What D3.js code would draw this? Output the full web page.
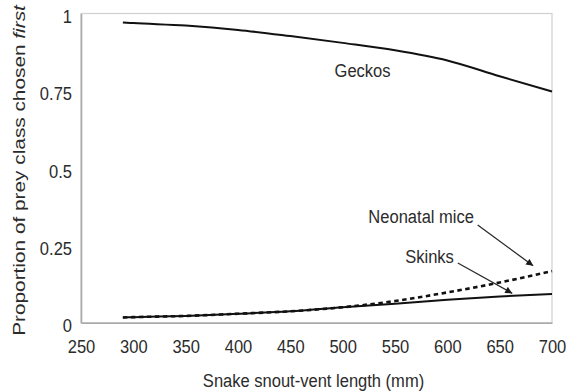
<!DOCTYPE html>
<html>
<head>
<meta charset="utf-8">
<script src="https://cdn.jsdelivr.net/npm/d3@7"></script>
<style>
  html, body { margin: 0; padding: 0; background: #fff; }
  svg { display: block; font-family: Arial, "Liberation Sans", sans-serif; }
  .tick text, .label { fill: #2b2b2b; }
</style>
</head>
<body>
<div id="chart"></div>
<script>
// snout-vent length (mm) where the fitted curves are sampled
const sizes = [290, 300, 350, 400, 450, 500, 550, 600, 650, 700];
const geckos = [0.971, 0.969, 0.961, 0.947, 0.927, 0.905, 0.881, 0.848, 0.797, 0.748];
const neonatalMice = [0.017, 0.018, 0.022, 0.029, 0.037, 0.050, 0.070, 0.098, 0.130, 0.167];
const skinks = [0.017, 0.018, 0.022, 0.029, 0.037, 0.050, 0.061, 0.074, 0.085, 0.093];

const xTicks = [250, 300, 350, 400, 450, 500, 550, 600, 650, 700];
const yTicks = [0, 0.25, 0.5, 0.75, 1];
const yTickLabels = ['0', '0.25', '0.5', '0.75', '1'];

// curve labels, anchored in data units
const labelNames = ['Geckos', 'Neonatal mice', 'Skinks'];
const labelX = [519, 575, 583];
const labelY = [0.794, 0.322, 0.192];
// arrows from label to curve, data units
const arrowFrom = [[629, 0.316], [610, 0.193]];
const arrowTo = [[682, 0.184], [662, 0.095]];

const width = 566, height = 391;
const margin = { top: 13.5, right: 14, bottom: 68.3, left: 81 };
const innerW = width - margin.left - margin.right;
const innerH = height - margin.top - margin.bottom;
const squeeze = 0.87; // the original text is a bit narrow

const svg = d3.select('#chart').append('svg')
  .attr('width', width)
  .attr('height', height);

const defs = svg.append('defs');
defs.append('marker')
  .attr('id', 'head')
  .attr('viewBox', '0 0 10 10')
  .attr('refX', 10).attr('refY', 5)
  .attr('markerUnits', 'userSpaceOnUse')
  .attr('markerWidth', 8).attr('markerHeight', 7)
  .attr('orient', 'auto')
  .append('path')
  .attr('d', 'M0,0 L10,5 L0,10 Z')
  .attr('fill', '#1a1a1a');

const g = svg.append('g')
  .attr('transform', `translate(${margin.left},${margin.top})`);

const x = d3.scaleLinear().domain([250, 700]).range([0, innerW]);
const y = d3.scaleLinear().domain([0, 1]).range([innerH, 0]);

// light frame
g.append('rect')
  .attr('width', innerW).attr('height', innerH)
  .attr('fill', 'none')
  .attr('stroke', '#d0d0d0')
  .attr('stroke-width', 1.2);

// x axis
const xAxis = g.append('g')
  .attr('transform', `translate(0,${innerH})`)
  .call(d3.axisBottom(x).tickValues(xTicks).tickSize(0).tickPadding(17).tickFormat(d3.format('d')));
xAxis.select('.domain').attr('stroke', '#aaaaaa').attr('stroke-width', 1.6);
xAxis.selectAll('text')
  .attr('font-size', 19)
  .attr('font-family', 'Arial, "Liberation Sans", sans-serif')
  .attr('transform', `scale(${squeeze},1)`);

// y axis
const yAxis = g.append('g')
  .call(d3.axisLeft(y).tickValues(yTicks).tickSize(0)
    .tickFormat((d, i) => yTickLabels[i]));
yAxis.select('.domain').attr('stroke', '#aaaaaa').attr('stroke-width', 1.6);
yAxis.selectAll('text')
  .attr('font-size', 19)
  .attr('font-family', 'Arial, "Liberation Sans", sans-serif')
  .attr('x', -9 / squeeze)
  .attr('y', 3)
  .attr('transform', `scale(${squeeze},1)`);

// curves
const line = d3.line()
  .x((d, i) => x(sizes[i]))
  .y(d => y(d))
  .curve(d3.curveMonotoneX);

g.append('path')
  .datum(skinks)
  .attr('d', line)
  .attr('fill', 'none')
  .attr('stroke', '#111')
  .attr('stroke-width', 2);

g.append('path')
  .datum(neonatalMice)
  .attr('d', line)
  .attr('fill', 'none')
  .attr('stroke', '#111')
  .attr('stroke-width', 2.6)
  .attr('stroke-dasharray', '4.5,3.5');

g.append('path')
  .datum(geckos)
  .attr('d', line)
  .attr('fill', 'none')
  .attr('stroke', '#111')
  .attr('stroke-width', 2);

// curve labels
labelNames.forEach((name, i) => {
  g.append('text')
    .attr('class', 'label')
    .attr('transform', `translate(${x(labelX[i])},${y(labelY[i])}) scale(${squeeze},1)`)
    .attr('text-anchor', 'middle')
    .attr('font-size', 19)
    .text(name);
});

arrowFrom.forEach((p, i) => {
  g.append('line')
    .attr('x1', x(p[0])).attr('y1', y(p[1]))
    .attr('x2', x(arrowTo[i][0])).attr('y2', y(arrowTo[i][1]))
    .attr('stroke', '#2b2b2b')
    .attr('stroke-width', 1.3)
    .attr('marker-end', 'url(#head)');
});

// axis titles
svg.append('text')
  .attr('class', 'label')
  .attr('transform', `translate(${margin.left + innerW / 2 - 3},387) scale(${squeeze},1)`)
  .attr('text-anchor', 'middle')
  .attr('font-size', 19)
  .text('Snake snout-vent length (mm)');

// y title: glyphs stretched along the text to span the plot height
const yTitle = svg.append('text')
  .attr('class', 'label')
  .attr('text-anchor', 'middle')
  .attr('font-size', 19);
yTitle.append('tspan').text('Proportion of prey class chosen ');
yTitle.append('tspan').attr('font-style', 'italic').text('first');
const titleLen = yTitle.node().getComputedTextLength();
yTitle.attr('transform', `translate(25,170.5) rotate(-90) scale(${331 / titleLen},${squeeze})`);
</script>
</body>
</html>
